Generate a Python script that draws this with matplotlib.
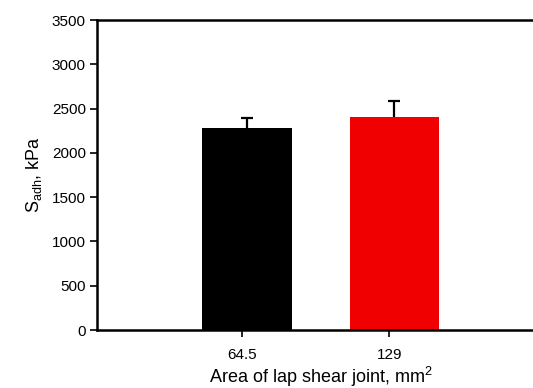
import matplotlib.pyplot as plt
import numpy as np

# Lap shear adhesion strength for two joint areas
areas = ['64.5', '129']
strength = [2280, 2400]
strength_err = [110, 185]
bar_colors = ['#000000', '#f00000']

plt.rcParams['font.family'] = ['Liberation Sans', 'DejaVu Sans']
plt.rcParams['mathtext.fontset'] = 'custom'
plt.rcParams['mathtext.rm'] = 'Liberation Sans'
plt.rcParams['mathtext.it'] = 'Liberation Sans'

fig = plt.figure(figsize=(5.33, 3.88), dpi=100)
ax = fig.add_axes([97 / 533, 58 / 388, 447.5 / 533, 310 / 388])

pos = np.arange(len(areas))
ax.bar(pos, strength, width=0.61, color=bar_colors, zorder=2)
# symmetric error bars drawn behind the bars, so only the upper half shows
ax.errorbar(pos, strength, yerr=strength_err,
            fmt='none', ecolor='black', elinewidth=1.6, capsize=4,
            capthick=1.6, zorder=1)

ax.set_xlim(-1.017, 2.017)
ax.set_ylim(0, 3500)
ax.set_yticks(np.arange(0, 3501, 500))
ax.set_xticks(pos - 0.035)
ax.set_xticklabels(areas)

for side in ['left', 'bottom', 'top']:
    ax.spines[side].set_linewidth(1.8)
ax.spines['right'].set_visible(False)
ax.tick_params(axis='both', direction='out', length=5, width=1.2,
               labelsize=11, pad=3)
ax.tick_params(axis='x', pad=8)

ax.set_xlabel('Area of lap shear joint, mm$^2$', fontsize=13, labelpad=2)
ax.set_ylabel(r'S$_{\mathrm{adh}}$, kPa', fontsize=13, labelpad=6)

fig.savefig('out.png', dpi=100)
